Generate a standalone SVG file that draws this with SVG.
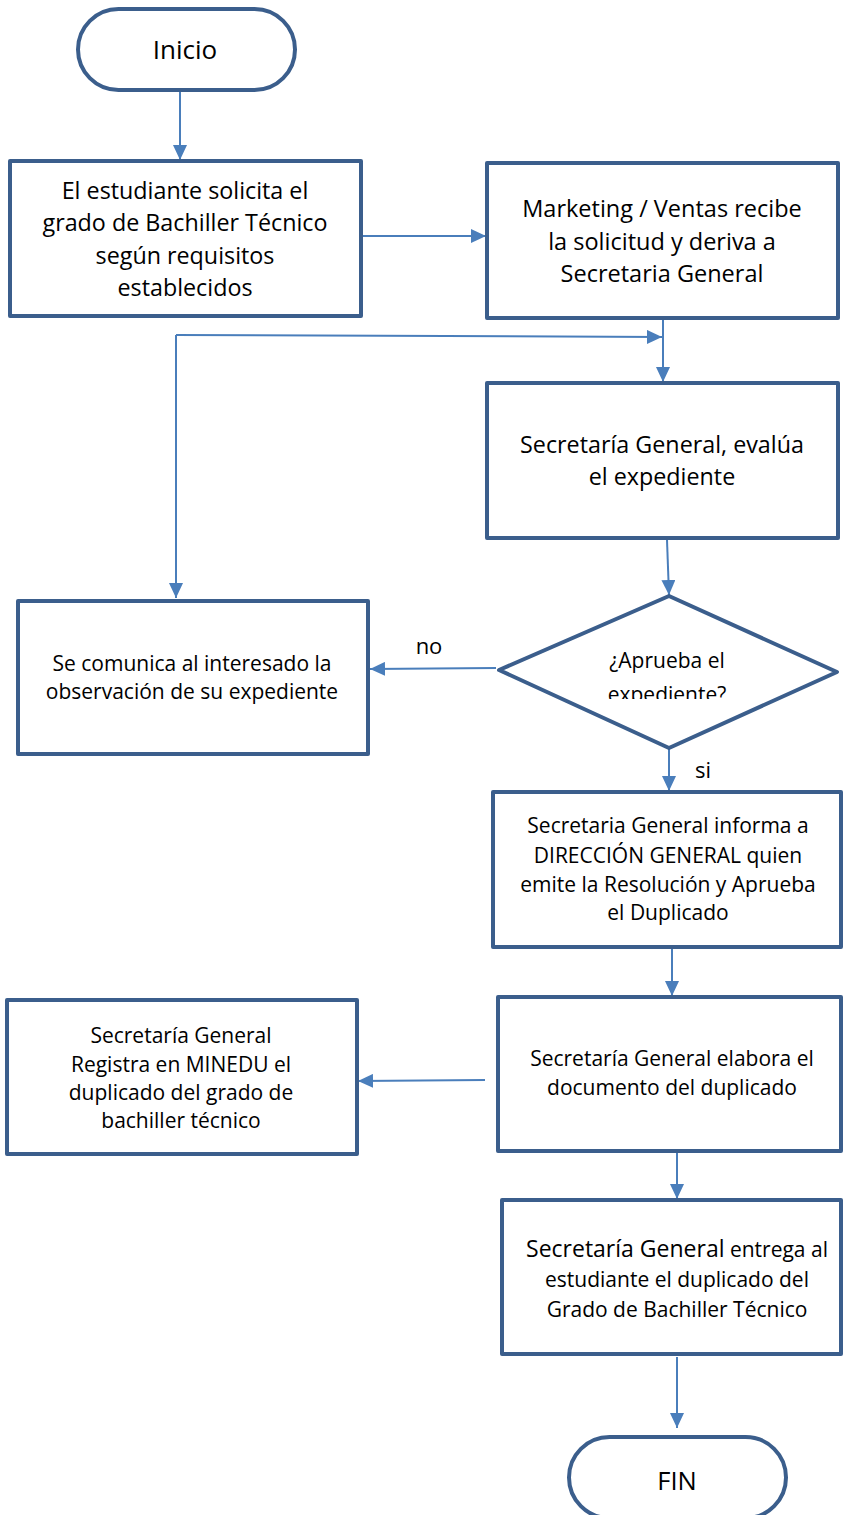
<svg xmlns="http://www.w3.org/2000/svg" width="843" height="1515" viewBox="0 0 843 1515">
<style>
.node{fill:#fff;stroke:#3B5E8C;stroke-width:4;stroke-linejoin:round}
.t{font-family:"Open Sans","Liberation Sans",sans-serif;fill:#000;text-anchor:middle}
.c{stroke:#4A7EBB;stroke-width:2;fill:none;marker-end:url(#ah)}
</style>
<defs>
<marker id="ah" markerUnits="userSpaceOnUse" markerWidth="15" markerHeight="14" refX="15" refY="7" orient="auto">
<path d="M0,0 L15,7 L0,14 z" fill="#4A7EBB"/>
</marker>
<clipPath id="dclip"><rect x="500" y="600" width="340" height="99"/></clipPath>
</defs>
<rect width="843" height="1515" fill="#fff"/>
<g id="connectors">
<path class="c" d="M180,90 L180,160"/>
<path class="c" d="M361,236 L486,236"/>
<path class="c" d="M663,318 L663,382"/>
<path class="c" d="M176,335 L662,337"/>
<path class="c" d="M176,335 L176,598"/>
<path class="c" d="M667,540 L669,595"/>
<path class="c" d="M496,668 L370,669"/>
<path class="c" d="M669,749 L669,791"/>
<path class="c" d="M672,948 L672,996"/>
<path class="c" d="M485,1080 L358,1081"/>
<path class="c" d="M677,1152 L677,1199"/>
<path class="c" d="M677,1357 L677,1428"/>
</g>
<g id="inicio">
<rect class="node" x="78" y="9" width="217" height="81" rx="40.5"/>
<text class="t" x="185" y="59" font-size="26">Inicio</text>
</g>
<g id="box1">
<rect class="node" x="10" y="161" width="351" height="155"/>
<text class="t" font-size="23.3"><tspan x="185" y="199">El estudiante solicita el</tspan><tspan x="185" y="231">grado de Bachiller Técnico</tspan><tspan x="185" y="264">según requisitos</tspan><tspan x="185" y="296">establecidos</tspan></text>
</g>
<g id="box2">
<rect class="node" x="487" y="163" width="351" height="155"/>
<text class="t" font-size="23.5"><tspan x="662" y="217">Marketing / Ventas recibe</tspan><tspan x="662" y="250">la solicitud y deriva a</tspan><tspan x="662" y="282">Secretaria General</tspan></text>
</g>
<g id="box3">
<rect class="node" x="487" y="383" width="351" height="155"/>
<text class="t" font-size="23.3"><tspan x="662" y="453">Secretaría General, evalúa</tspan><tspan x="662" y="485">el expediente</tspan></text>
</g>
<g id="decision">
<polygon class="node" points="669,596 837,672 669,748 499,670"/>
<g clip-path="url(#dclip)">
<text class="t" font-size="21"><tspan x="667" y="668">¿Aprueba el</tspan><tspan x="667" y="702">expediente?</tspan></text>
</g>
</g>
<g id="box4">
<rect class="node" x="18" y="601" width="350" height="153"/>
<text class="t" font-size="21"><tspan x="192" y="671">Se comunica al interesado la</tspan><tspan x="192" y="699">observación de su expediente</tspan></text>
</g>
<g id="labels">
<text class="t" x="429" y="654" font-size="22">no</text>
<text class="t" x="703" y="778" font-size="22">si</text>
</g>
<g id="box5">
<rect class="node" x="493" y="792" width="348" height="155"/>
<text class="t" font-size="21"><tspan x="668" y="833">Secretaria General informa a</tspan><tspan x="668" y="863">DIRECCIÓN GENERAL quien</tspan><tspan x="668" y="892">emite la Resolución y Aprueba</tspan><tspan x="668" y="920">el Duplicado</tspan></text>
</g>
<g id="box6">
<rect class="node" x="498" y="997" width="343" height="154"/>
<text class="t" font-size="21"><tspan x="672" y="1066">Secretaría General elabora el</tspan><tspan x="672" y="1095">documento del duplicado</tspan></text>
</g>
<g id="box7">
<rect class="node" x="7" y="1000" width="350" height="154"/>
<text class="t" font-size="21"><tspan x="181" y="1043">Secretaría General</tspan><tspan x="181" y="1072">Registra en MINEDU el</tspan><tspan x="181" y="1100">duplicado del grado de</tspan><tspan x="181" y="1128">bachiller técnico</tspan></text>
</g>
<g id="box8">
<rect class="node" x="502" y="1200" width="339" height="154"/>
<text class="t" font-size="21"><tspan x="677" y="1257"><tspan font-size="23">Secretaría General</tspan> entrega al</tspan><tspan x="677" y="1287">estudiante el duplicado del</tspan><tspan x="677" y="1317">Grado de Bachiller Técnico</tspan></text>
</g>
<g id="fin">
<rect class="node" x="569" y="1437" width="217" height="81" rx="40.5"/>
<text class="t" x="677" y="1490" font-size="25.5">FIN</text>
</g>
</svg>
